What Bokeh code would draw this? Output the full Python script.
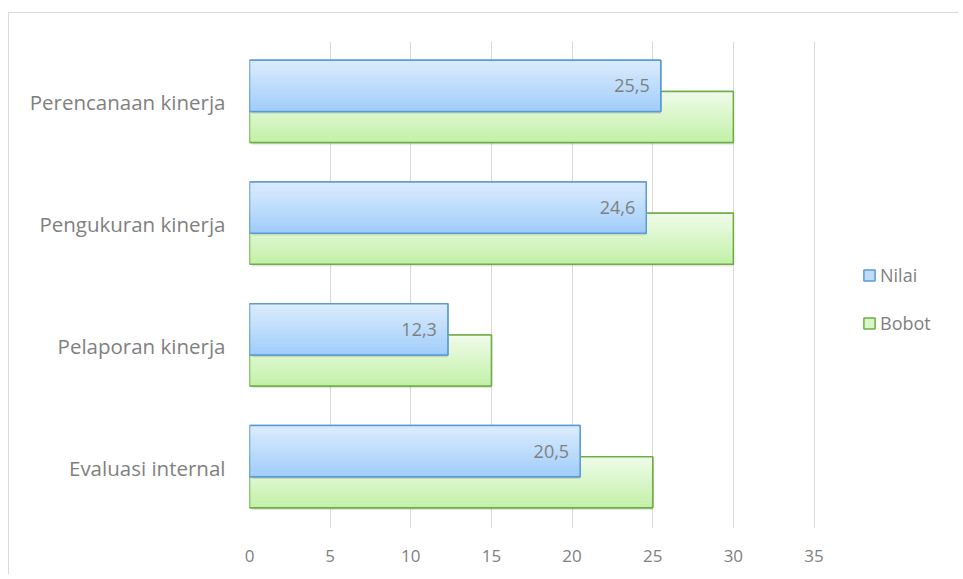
from bokeh.plotting import figure
from bokeh.models import FactorRange, Range1d, FixedTicker, Legend, LegendItem, ColumnDataSource
from bokeh.transform import dodge
from bokeh.core.properties import value
from bokeh.embed import file_html
from bokeh.resources import INLINE

categories = ["Evaluasi internal", "Pelaporan kinerja", "Pengukuran kinerja", "Perencanaan kinerja"]
nilai = [20.5, 12.3, 24.6, 25.5]
bobot = [25, 15, 30, 30]
x_ticks = [0, 5, 10, 15, 20, 25, 30, 35]

labels = [f"{v:.1f}".replace(".", ",") for v in nilai]
src = ColumnDataSource(dict(cat=categories, nilai=nilai, bobot=bobot, label=labels))

FONT = "Open Sans"
TXT = "#7f7f7f"

# frame spans 0..35 over 564.5px; extend the frame to the right to hold the legend
W, HGT = 950, 562
LEFT, RIGHT = 240, 4
frame_w = W - LEFT - RIGHT
x_end = 35 * frame_w / 564.5

p = figure(width=W, height=HGT, output_backend="svg", toolbar_location=None,
           y_range=FactorRange(factors=categories), x_range=Range1d(0, x_end),
           min_border_left=LEFT, min_border_right=RIGHT, min_border_top=28, min_border_bottom=47)
p.styles = {"border-top": "1px solid #d9d9d9", "border-left": "1px solid #d9d9d9",
            "margin-top": "12px", "margin-left": "8px"}
p.outline_line_color = None
p.background_fill_color = "white"
p.border_fill_color = "white"

p.xaxis.ticker = FixedTicker(ticks=x_ticks)
p.xgrid.ticker = FixedTicker(ticks=x_ticks)
p.xgrid.grid_line_color = "#d9d9d9"
p.ygrid.grid_line_color = None
for ax in (p.xaxis, p.yaxis):
    ax.axis_line_color = None
    ax.major_tick_line_color = None
    ax.minor_tick_line_color = None
    ax.major_label_text_font = FONT
    ax.major_label_text_color = TXT
p.xaxis.major_label_text_font_size = "17px"
p.yaxis.major_label_text_font_size = "20.5px"
p.xaxis.major_label_standoff = 15
p.yaxis.major_label_standoff = 18

H = 0.42
OFF_N = 0.135
OFF_B = -0.12
N = 24


def lerp(c1, c2, t):
    return "#%02x%02x%02x" % tuple(round(a + (b - a) * t) for a, b in zip(c1, c2))


def draw(field, off, top_c, bot_c, mid_c, line_c):
    # soft shadow
    p.hbar(y=dodge("cat", off - 0.018, range=p.y_range), height=H, left=0.15, right=field,
           source=src, fill_color="black", fill_alpha=0.10, line_color=None)
    base = p.hbar(y=dodge("cat", off, range=p.y_range), height=H, left=0, right=field,
                  source=src, fill_color=mid_c, line_color=line_c, line_width=1.5)
    for i in range(N):
        t = (i + 0.5) / N
        o = off + H / 2 - t * H
        p.hbar(y=dodge("cat", o, range=p.y_range), height=H / N * 1.05, left=0, right=field,
               source=src, fill_color=lerp(top_c, bot_c, t), line_color=None)
    p.hbar(y=dodge("cat", off, range=p.y_range), height=H, left=0, right=field,
           source=src, fill_color=None, line_color=line_c, line_width=1.5)
    return base


g = draw("bobot", OFF_B, (242, 252, 236), (192, 240, 166), (215, 246, 200), "#70ad47")
b = draw("nilai", OFF_N, (222, 237, 253), (158, 204, 250), (190, 221, 252), "#5b9bd5")

p.text(x="nilai", y=dodge("cat", OFF_N, range=p.y_range), text="label", source=src,
       text_align="right", text_baseline="middle", x_offset=-11,
       text_font=value(FONT), text_font_size="18px", text_color=TXT)

legend = Legend(items=[LegendItem(label="Nilai", renderers=[b]), LegendItem(label="Bobot", renderers=[g])],
                location=(613, 193), padding=0, margin=0, spacing=24, glyph_width=14, glyph_height=14,
                label_height=20, label_standoff=4, border_line_color=None, background_fill_alpha=0,
                label_text_font=FONT, label_text_font_size="18px", label_text_color=TXT)
p.add_layout(legend, "center")

open("out.html", "w").write(file_html(p, INLINE))
